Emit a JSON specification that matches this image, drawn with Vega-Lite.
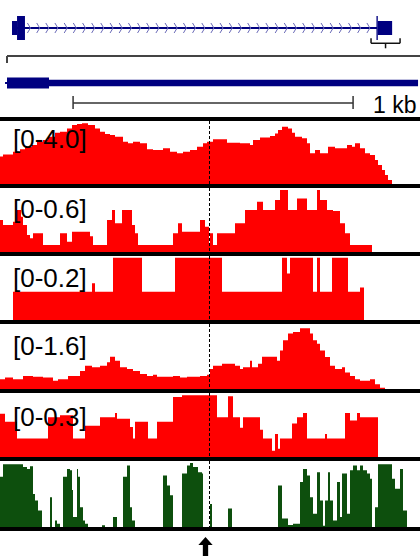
{
  "$schema": "https://vega.github.io/schema/vega-lite/v6.json",
  "background": "black",
  "padding": 0,
  "bounds": "flush",
  "spacing": 4,
  "config": {"view": {"stroke": null, "fill": "white"}},
  "resolve": {"scale": {"x": "independent", "y": "independent", "strokeWidth": "independent"}},
  "vconcat": [
    {
      "width": 420,
      "height": 117,
      "resolve": {"scale": {"x": "independent", "y": "independent", "strokeWidth": "independent"}},
      "layer": [
        {
          "layer": [
            {
              "data": {"values": [{"start": 0.62, "end": 19.48}]},
              "mark": {"type": "rule", "stroke": "#000080", "strokeWidth": 2},
              "encoding": {
                "x": {"field": "start", "type": "quantitative", "scale": {"domain": [0, 21.7], "nice": false, "zero": false}, "axis": null},
                "x2": {"field": "end"},
                "y": {"datum": 0, "type": "quantitative", "scale": {"domain": [-3.18, 1], "nice": false, "zero": false}, "axis": null}
              }
            },
            {
              "data": {"values": [{"kb": 1.52}, {"kb": 2.0}, {"kb": 2.47}, {"kb": 2.94}, {"kb": 3.42}, {"kb": 3.89}, {"kb": 4.37}, {"kb": 4.84}, {"kb": 5.31}, {"kb": 5.79}, {"kb": 6.26}, {"kb": 6.74}, {"kb": 7.21}, {"kb": 7.68}, {"kb": 8.16}, {"kb": 8.63}, {"kb": 9.1}, {"kb": 9.58}, {"kb": 10.05}, {"kb": 10.53}, {"kb": 11.0}, {"kb": 11.47}, {"kb": 11.95}, {"kb": 12.42}, {"kb": 12.9}, {"kb": 13.37}, {"kb": 13.84}, {"kb": 14.32}, {"kb": 14.79}, {"kb": 15.26}, {"kb": 15.74}, {"kb": 16.21}, {"kb": 16.69}, {"kb": 17.16}, {"kb": 17.63}, {"kb": 18.11}, {"kb": 18.58}, {"kb": 19.06}]},
              "mark": {"type": "point", "shape": "M-0.4,-1L0.2,0L-0.4,1", "size": 100, "filled": false, "stroke": "#6a6ab8", "strokeWidth": 1, "opacity": 1},
              "encoding": {
                "x": {"field": "kb", "type": "quantitative"},
                "y": {"datum": 0, "type": "quantitative"}
              }
            },
            {
              "data": {"values": [
                {"start": 0.62, "end": 0.88, "type": "UTR"},
                {"start": 0.88, "end": 1.29, "type": "CDS"},
                {"start": 19.45, "end": 19.52, "type": "CDS"},
                {"start": 19.52, "end": 20.26, "type": "UTR"}
              ]},
              "mark": {"type": "rule", "stroke": "#000080", "strokeCap": "butt"},
              "encoding": {
                "x": {"field": "start", "type": "quantitative"},
                "x2": {"field": "end"},
                "y": {"datum": 0, "type": "quantitative"},
                "strokeWidth": {"field": "type", "type": "ordinal", "scale": {"domain": ["UTR", "CDS"], "range": [14, 24]}, "legend": null}
              }
            },
            {
              "data": {"values": [{"start": 19.17, "end": 20.67, "mid": 19.92}]},
              "layer": [
                {
                  "mark": {"type": "rule", "stroke": "#111111", "strokeWidth": 1.5},
                  "encoding": {"x": {"field": "start", "type": "quantitative"}, "x2": {"field": "end"}, "y": {"datum": -0.546, "type": "quantitative"}}
                },
                {
                  "mark": {"type": "rule", "stroke": "#111111", "strokeWidth": 1.5},
                  "encoding": {"x": {"field": "start", "type": "quantitative"}, "y": {"datum": -0.368, "type": "quantitative"}, "y2": {"datum": -0.546}}
                },
                {
                  "mark": {"type": "rule", "stroke": "#111111", "strokeWidth": 1.5},
                  "encoding": {"x": {"field": "end", "type": "quantitative"}, "y": {"datum": -0.368, "type": "quantitative"}, "y2": {"datum": -0.546}}
                },
                {
                  "mark": {"type": "rule", "stroke": "#111111", "strokeWidth": 1.5},
                  "encoding": {"x": {"field": "mid", "type": "quantitative"}, "y": {"datum": -0.546, "type": "quantitative"}, "y2": {"datum": -0.725}}
                }
              ]
            }
          ]
        },
        {
          "layer": [
            {
              "data": {"values": [{"start": 0.025, "end": 1.5}]},
              "mark": {"type": "rule", "stroke": "#444444", "strokeWidth": 2},
              "encoding": {
                "x": {"field": "start", "type": "quantitative", "scale": {"domain": [0, 1.5], "nice": false, "zero": false}, "axis": null},
                "x2": {"field": "end"},
                "y": {"datum": 1, "type": "quantitative", "scale": {"domain": [-1.26, 3.074], "nice": false, "zero": false}, "axis": null}
              }
            },
            {
              "data": {"values": [{"start": 0.025, "end": 1.5}]},
              "mark": {"type": "rule", "stroke": "#444444", "strokeWidth": 2},
              "encoding": {
                "x": {"field": "start", "type": "quantitative"},
                "y": {"datum": 1, "type": "quantitative"},
                "y2": {"datum": 0.74}
              }
            },
            {
              "data": {"values": [
                {"start": 0.018, "end": 0.025, "type": "intron"},
                {"start": 0.025, "end": 0.175, "type": "CDS"},
                {"start": 0.175, "end": 1.493, "type": "UTR"}
              ]},
              "mark": {"type": "rule", "stroke": "#000080", "strokeCap": "butt"},
              "encoding": {
                "x": {"field": "start", "type": "quantitative"},
                "x2": {"field": "end"},
                "y": {"datum": 0, "type": "quantitative"},
                "strokeWidth": {"field": "type", "type": "ordinal", "scale": {"domain": ["intron", "UTR", "CDS"], "range": [2, 11, 20]}, "legend": null}
              }
            },
            {
              "data": {"values": [{"start": 0.261, "end": 1.261, "lx": 1.332, "label": "1 kb"}]},
              "layer": [
                {
                  "mark": {"type": "rule", "stroke": "#333333", "strokeWidth": 1.5},
                  "encoding": {"x": {"field": "start", "type": "quantitative"}, "x2": {"field": "end"}, "y": {"datum": -0.741, "type": "quantitative"}}
                },
                {
                  "mark": {"type": "rule", "stroke": "#333333", "strokeWidth": 1.5},
                  "encoding": {"x": {"field": "start", "type": "quantitative"}, "y": {"datum": -0.481, "type": "quantitative"}, "y2": {"datum": -0.963}}
                },
                {
                  "mark": {"type": "rule", "stroke": "#333333", "strokeWidth": 1.5},
                  "encoding": {"x": {"field": "end", "type": "quantitative"}, "y": {"datum": -0.481, "type": "quantitative"}, "y2": {"datum": -0.963}}
                },
                {
                  "mark": {"type": "text", "align": "left", "baseline": "alphabetic", "font": "Liberation Sans", "fontSize": 23, "color": "black"},
                  "encoding": {"x": {"field": "lx", "type": "quantitative"}, "y": {"datum": -1.111, "type": "quantitative"}, "text": {"field": "label"}}
                }
              ]
            }
          ]
        }
      ]
    },
    {
      "width": 420,
      "height": 63,
      "layer": [
        {
          "data": {"values": [
            {"bin": 0, "v": 1.74}, {"bin": 3, "v": 1.88}, {"bin": 13, "v": 2.05}, {"bin": 20, "v": 2.2}, {"bin": 25, "v": 2.37}, {"bin": 32, "v": 2.48}, {"bin": 37, "v": 2.69}, {"bin": 43, "v": 2.79}, {"bin": 48, "v": 3.0}, {"bin": 55, "v": 3.26}, {"bin": 60, "v": 3.32}, {"bin": 67, "v": 3.53}, {"bin": 72, "v": 3.75}, {"bin": 77, "v": 3.81}, {"bin": 82, "v": 3.85}, {"bin": 88, "v": 3.75}, {"bin": 95, "v": 3.53}, {"bin": 100, "v": 3.32}, {"bin": 105, "v": 3.17}, {"bin": 110, "v": 3.11}, {"bin": 115, "v": 3.0}, {"bin": 123, "v": 2.69}, {"bin": 128, "v": 2.58}, {"bin": 133, "v": 2.69}, {"bin": 140, "v": 2.58}, {"bin": 147, "v": 2.2}, {"bin": 153, "v": 2.16}, {"bin": 163, "v": 2.27}, {"bin": 170, "v": 2.05}, {"bin": 177, "v": 1.95}, {"bin": 183, "v": 2.05}, {"bin": 190, "v": 2.16}, {"bin": 197, "v": 2.37}, {"bin": 203, "v": 2.58}, {"bin": 207, "v": 2.69},
            {"bin": 210, "v": 2.69}, {"bin": 213, "v": 2.84}, {"bin": 227, "v": 2.62}, {"bin": 240, "v": 2.58}, {"bin": 250, "v": 2.48}, {"bin": 253, "v": 2.79}, {"bin": 260, "v": 2.96}, {"bin": 270, "v": 3.05}, {"bin": 275, "v": 3.2}, {"bin": 278, "v": 3.43}, {"bin": 282, "v": 3.64}, {"bin": 288, "v": 3.53}, {"bin": 292, "v": 3.26}, {"bin": 295, "v": 3.0}, {"bin": 302, "v": 2.9}, {"bin": 307, "v": 2.58}, {"bin": 310, "v": 1.95}, {"bin": 315, "v": 2.16}, {"bin": 320, "v": 1.95}, {"bin": 328, "v": 2.37}, {"bin": 335, "v": 2.27}, {"bin": 347, "v": 2.48}, {"bin": 352, "v": 2.37}, {"bin": 355, "v": 2.58}, {"bin": 360, "v": 2.27}, {"bin": 365, "v": 1.95}, {"bin": 370, "v": 1.84}, {"bin": 375, "v": 1.52}, {"bin": 378, "v": 1.21}, {"bin": 382, "v": 0.89}, {"bin": 385, "v": 0.57}, {"bin": 388, "v": 0.25}, {"bin": 392, "v": 0}, {"bin": 420, "v": 0}
          ]},
          "mark": {"type": "area", "interpolate": "step-after", "color": "#ff0000", "clip": true},
          "encoding": {
            "x": {"field": "bin", "type": "quantitative", "scale": {"domain": [0, 420], "nice": false, "zero": false}, "axis": null},
            "y": {"field": "v", "type": "quantitative", "scale": {"domain": [0, 4.0], "nice": false}, "axis": null}
          }
        },
        {
          "data": {"values": [{"bin": 209.5}]},
          "mark": {"type": "rule", "strokeDash": [3, 2], "color": "black", "strokeWidth": 1},
          "encoding": {"x": {"field": "bin", "type": "quantitative"}}
        },
        {
          "data": {"values": [{"bin": 13, "label": "[0-4.0]"}]},
          "mark": {"type": "text", "align": "left", "baseline": "alphabetic", "font": "Liberation Sans", "fontSize": 26, "color": "black"},
          "encoding": {"x": {"field": "bin", "type": "quantitative"}, "y": {"datum": 2.286, "type": "quantitative"}, "text": {"field": "label"}}
        }
      ]
    },
    {
      "width": 420,
      "height": 64,
      "layer": [
        {
          "data": {"values": [
            {"bin": 0, "v": 0.305}, {"bin": 3, "v": 0.257}, {"bin": 13, "v": 0.289}, {"bin": 17, "v": 0.4}, {"bin": 21, "v": 0.336}, {"bin": 23, "v": 0.257}, {"bin": 27, "v": 0.162}, {"bin": 30, "v": 0.13}, {"bin": 33, "v": 0.178}, {"bin": 43, "v": 0.067}, {"bin": 60, "v": 0.178}, {"bin": 67, "v": 0.098}, {"bin": 72, "v": 0.193}, {"bin": 90, "v": 0.15}, {"bin": 93, "v": 0.067}, {"bin": 107, "v": 0.305}, {"bin": 112, "v": 0.4}, {"bin": 115, "v": 0.273}, {"bin": 122, "v": 0.4}, {"bin": 132, "v": 0.257}, {"bin": 135, "v": 0.178}, {"bin": 138, "v": 0.067}, {"bin": 173, "v": 0.178}, {"bin": 178, "v": 0.273}, {"bin": 182, "v": 0.193}, {"bin": 200, "v": 0.305}, {"bin": 205, "v": 0.24}, {"bin": 209, "v": 0.067},
            {"bin": 210, "v": 0.178}, {"bin": 213, "v": 0.067}, {"bin": 217, "v": 0.178}, {"bin": 235, "v": 0.273}, {"bin": 245, "v": 0.4}, {"bin": 257, "v": 0.48}, {"bin": 263, "v": 0.4}, {"bin": 275, "v": 0.496}, {"bin": 280, "v": 0.59}, {"bin": 288, "v": 0.4}, {"bin": 297, "v": 0.51}, {"bin": 307, "v": 0.4}, {"bin": 317, "v": 0.59}, {"bin": 320, "v": 0.496}, {"bin": 327, "v": 0.4}, {"bin": 333, "v": 0.39}, {"bin": 340, "v": 0.273}, {"bin": 345, "v": 0.178}, {"bin": 350, "v": 0.067}, {"bin": 372, "v": 0}, {"bin": 420, "v": 0}
          ]},
          "mark": {"type": "area", "interpolate": "step-after", "color": "#ff0000", "clip": true},
          "encoding": {
            "x": {"field": "bin", "type": "quantitative", "scale": {"domain": [0, 420], "nice": false, "zero": false}, "axis": null},
            "y": {"field": "v", "type": "quantitative", "scale": {"domain": [0, 0.61], "nice": false}, "axis": null}
          }
        },
        {
          "data": {"values": [{"bin": 209.5}]},
          "mark": {"type": "rule", "strokeDash": [3, 2], "color": "black", "strokeWidth": 1},
          "encoding": {"x": {"field": "bin", "type": "quantitative"}}
        },
        {
          "data": {"values": [{"bin": 13, "label": "[0-0.6]"}]},
          "mark": {"type": "text", "align": "left", "baseline": "alphabetic", "font": "Liberation Sans", "fontSize": 26, "color": "black"},
          "encoding": {"x": {"field": "bin", "type": "quantitative"}, "y": {"datum": 0.327, "type": "quantitative"}, "text": {"field": "label"}}
        }
      ]
    },
    {
      "width": 420,
      "height": 64,
      "layer": [
        {
          "data": {"values": [
            {"bin": 0, "v": 0}, {"bin": 13, "v": 0.091}, {"bin": 92, "v": 0.118}, {"bin": 95, "v": 0.091}, {"bin": 113, "v": 0.2}, {"bin": 142, "v": 0.091}, {"bin": 175, "v": 0.2}, {"bin": 222, "v": 0.091}, {"bin": 282, "v": 0.2}, {"bin": 287, "v": 0.15}, {"bin": 290, "v": 0.2}, {"bin": 313, "v": 0.091}, {"bin": 317, "v": 0.2}, {"bin": 320, "v": 0.091}, {"bin": 332, "v": 0.2}, {"bin": 348, "v": 0.091}, {"bin": 360, "v": 0.105}, {"bin": 364, "v": 0}, {"bin": 420, "v": 0}
          ]},
          "mark": {"type": "area", "interpolate": "step-after", "color": "#ff0000", "clip": true},
          "encoding": {
            "x": {"field": "bin", "type": "quantitative", "scale": {"domain": [0, 420], "nice": false, "zero": false}, "axis": null},
            "y": {"field": "v", "type": "quantitative", "scale": {"domain": [0, 0.206], "nice": false}, "axis": null}
          }
        },
        {
          "data": {"values": [{"bin": 209.5}]},
          "mark": {"type": "rule", "strokeDash": [3, 2], "color": "black", "strokeWidth": 1},
          "encoding": {"x": {"field": "bin", "type": "quantitative"}}
        },
        {
          "data": {"values": [{"bin": 13, "label": "[0-0.2]"}]},
          "mark": {"type": "text", "align": "left", "baseline": "alphabetic", "font": "Liberation Sans", "fontSize": 26, "color": "black"},
          "encoding": {"x": {"field": "bin", "type": "quantitative"}, "y": {"datum": 0.106, "type": "quantitative"}, "text": {"field": "label"}}
        }
      ]
    },
    {
      "width": 420,
      "height": 65,
      "layer": [
        {
          "data": {"values": [
            {"bin": 0, "v": 0.25}, {"bin": 5, "v": 0.29}, {"bin": 13, "v": 0.25}, {"bin": 23, "v": 0.33}, {"bin": 33, "v": 0.31}, {"bin": 43, "v": 0.29}, {"bin": 53, "v": 0.21}, {"bin": 58, "v": 0.25}, {"bin": 68, "v": 0.33}, {"bin": 80, "v": 0.46}, {"bin": 85, "v": 0.59}, {"bin": 92, "v": 0.55}, {"bin": 100, "v": 0.59}, {"bin": 107, "v": 0.68}, {"bin": 110, "v": 0.82}, {"bin": 115, "v": 0.72}, {"bin": 120, "v": 0.55}, {"bin": 127, "v": 0.51}, {"bin": 133, "v": 0.46}, {"bin": 140, "v": 0.38}, {"bin": 147, "v": 0.33}, {"bin": 153, "v": 0.36}, {"bin": 157, "v": 0.31}, {"bin": 173, "v": 0.33}, {"bin": 180, "v": 0.29}, {"bin": 187, "v": 0.31}, {"bin": 200, "v": 0.33}, {"bin": 207, "v": 0.36},
            {"bin": 210, "v": 0.51}, {"bin": 213, "v": 0.59}, {"bin": 222, "v": 0.64}, {"bin": 235, "v": 0.59}, {"bin": 240, "v": 0.51}, {"bin": 243, "v": 0.55}, {"bin": 250, "v": 0.72}, {"bin": 252, "v": 0.55}, {"bin": 258, "v": 0.64}, {"bin": 262, "v": 0.82}, {"bin": 277, "v": 0.72}, {"bin": 280, "v": 0.98}, {"bin": 283, "v": 1.24}, {"bin": 288, "v": 1.41}, {"bin": 293, "v": 1.45}, {"bin": 300, "v": 1.54}, {"bin": 310, "v": 1.41}, {"bin": 313, "v": 1.24}, {"bin": 317, "v": 1.15}, {"bin": 320, "v": 0.98}, {"bin": 325, "v": 0.81}, {"bin": 330, "v": 0.59}, {"bin": 335, "v": 0.51}, {"bin": 342, "v": 0.55}, {"bin": 345, "v": 0.42}, {"bin": 350, "v": 0.33}, {"bin": 355, "v": 0.25}, {"bin": 360, "v": 0.21}, {"bin": 370, "v": 0.25}, {"bin": 375, "v": 0.12}, {"bin": 380, "v": 0.03}, {"bin": 385, "v": 0}, {"bin": 420, "v": 0}
          ]},
          "mark": {"type": "area", "interpolate": "step-after", "color": "#ff0000", "clip": true},
          "encoding": {
            "x": {"field": "bin", "type": "quantitative", "scale": {"domain": [0, 420], "nice": false, "zero": false}, "axis": null},
            "y": {"field": "v", "type": "quantitative", "scale": {"domain": [0, 1.65], "nice": false}, "axis": null}
          }
        },
        {
          "data": {"values": [{"bin": 209.5}]},
          "mark": {"type": "rule", "strokeDash": [3, 2], "color": "black", "strokeWidth": 1},
          "encoding": {"x": {"field": "bin", "type": "quantitative"}}
        },
        {
          "data": {"values": [{"bin": 13, "label": "[0-1.6]"}]},
          "mark": {"type": "text", "align": "left", "baseline": "alphabetic", "font": "Liberation Sans", "fontSize": 26, "color": "black"},
          "encoding": {"x": {"field": "bin", "type": "quantitative"}, "y": {"datum": 0.863, "type": "quantitative"}, "text": {"field": "label"}}
        }
      ]
    },
    {
      "width": 420,
      "height": 64,
      "layer": [
        {
          "data": {"values": [
            {"bin": 0, "v": 0.207}, {"bin": 5, "v": 0.168}, {"bin": 17, "v": 0.088}, {"bin": 48, "v": 0.19}, {"bin": 60, "v": 0.2}, {"bin": 73, "v": 0.088}, {"bin": 85, "v": 0.15}, {"bin": 100, "v": 0.19}, {"bin": 115, "v": 0.21}, {"bin": 117, "v": 0.183}, {"bin": 130, "v": 0.144}, {"bin": 133, "v": 0.088}, {"bin": 135, "v": 0.168}, {"bin": 148, "v": 0.088}, {"bin": 157, "v": 0.168}, {"bin": 173, "v": 0.287}, {"bin": 182, "v": 0.295},
            {"bin": 210, "v": 0.295}, {"bin": 217, "v": 0.19}, {"bin": 228, "v": 0.29}, {"bin": 233, "v": 0.19}, {"bin": 240, "v": 0.14}, {"bin": 243, "v": 0.19}, {"bin": 260, "v": 0.13}, {"bin": 263, "v": 0.088}, {"bin": 272, "v": 0.03}, {"bin": 275, "v": 0.11}, {"bin": 278, "v": 0.04}, {"bin": 280, "v": 0.088}, {"bin": 292, "v": 0.16}, {"bin": 297, "v": 0.19}, {"bin": 303, "v": 0.21}, {"bin": 307, "v": 0.088}, {"bin": 325, "v": 0.11}, {"bin": 327, "v": 0.088}, {"bin": 345, "v": 0.21}, {"bin": 350, "v": 0.175}, {"bin": 357, "v": 0.21}, {"bin": 360, "v": 0.19}, {"bin": 378, "v": 0}, {"bin": 420, "v": 0}
          ]},
          "mark": {"type": "area", "interpolate": "step-after", "color": "#ff0000", "clip": true},
          "encoding": {
            "x": {"field": "bin", "type": "quantitative", "scale": {"domain": [0, 420], "nice": false, "zero": false}, "axis": null},
            "y": {"field": "v", "type": "quantitative", "scale": {"domain": [0, 0.306], "nice": false}, "axis": null}
          }
        },
        {
          "data": {"values": [{"bin": 209.5}]},
          "mark": {"type": "rule", "strokeDash": [3, 2], "color": "black", "strokeWidth": 1},
          "encoding": {"x": {"field": "bin", "type": "quantitative"}}
        },
        {
          "data": {"values": [{"bin": 13, "label": "[0-0.3]"}]},
          "mark": {"type": "text", "align": "left", "baseline": "alphabetic", "font": "Liberation Sans", "fontSize": 26, "color": "black"},
          "encoding": {"x": {"field": "bin", "type": "quantitative"}, "y": {"datum": 0.148, "type": "quantitative"}, "text": {"field": "label"}}
        }
      ]
    },
    {
      "width": 420,
      "height": 66,
      "layer": [
        {
          "data": {"values": [
            {"bin": 0, "v": 0.76}, {"bin": 3, "v": 0.95}, {"bin": 23, "v": 0.91}, {"bin": 27, "v": 0.88}, {"bin": 30, "v": 0.92}, {"bin": 33, "v": 0.5}, {"bin": 35, "v": 0.4}, {"bin": 38, "v": 0.25}, {"bin": 42, "v": 0}, {"bin": 50, "v": 0.45}, {"bin": 52, "v": 0}, {"bin": 55, "v": 0.1}, {"bin": 57, "v": 0.05}, {"bin": 60, "v": 0}, {"bin": 63, "v": 0.76}, {"bin": 67, "v": 0.88}, {"bin": 70, "v": 0.86}, {"bin": 72, "v": 0.56}, {"bin": 73, "v": 0.15}, {"bin": 77, "v": 0.88}, {"bin": 78, "v": 0.76}, {"bin": 80, "v": 0.3}, {"bin": 83, "v": 0.1}, {"bin": 85, "v": 0.05}, {"bin": 88, "v": 0}, {"bin": 102, "v": 0.025}, {"bin": 105, "v": 0}, {"bin": 113, "v": 0.15}, {"bin": 117, "v": 0}, {"bin": 123, "v": 0.76}, {"bin": 127, "v": 0.93}, {"bin": 130, "v": 0.3}, {"bin": 132, "v": 0.1}, {"bin": 135, "v": 0}, {"bin": 163, "v": 0.78}, {"bin": 167, "v": 0.63}, {"bin": 170, "v": 0.48}, {"bin": 173, "v": 0}, {"bin": 182, "v": 0.81}, {"bin": 187, "v": 0.93}, {"bin": 190, "v": 0.97}, {"bin": 193, "v": 0.91}, {"bin": 198, "v": 0.83}, {"bin": 202, "v": 0.81}, {"bin": 203, "v": 0},
            {"bin": 210, "v": 0.35}, {"bin": 212, "v": 0}, {"bin": 228, "v": 0.28}, {"bin": 232, "v": 0}, {"bin": 278, "v": 0.63}, {"bin": 282, "v": 0.13}, {"bin": 288, "v": 0.03}, {"bin": 293, "v": 0.05}, {"bin": 300, "v": 0.68}, {"bin": 303, "v": 0.88}, {"bin": 307, "v": 0.78}, {"bin": 310, "v": 0.45}, {"bin": 313, "v": 0.2}, {"bin": 317, "v": 0.83}, {"bin": 320, "v": 0.4}, {"bin": 323, "v": 0.02}, {"bin": 325, "v": 0.4}, {"bin": 328, "v": 0.83}, {"bin": 330, "v": 0.4}, {"bin": 333, "v": 0.1}, {"bin": 337, "v": 0.68}, {"bin": 340, "v": 0.15}, {"bin": 342, "v": 0.81}, {"bin": 347, "v": 0.2}, {"bin": 350, "v": 0.86}, {"bin": 353, "v": 0.93}, {"bin": 357, "v": 0.86}, {"bin": 360, "v": 0.93}, {"bin": 363, "v": 0.86}, {"bin": 367, "v": 0.81}, {"bin": 370, "v": 0.73}, {"bin": 372, "v": 0}, {"bin": 375, "v": 0.3}, {"bin": 378, "v": 0.95}, {"bin": 392, "v": 0.73}, {"bin": 395, "v": 0.58}, {"bin": 400, "v": 0.88}, {"bin": 403, "v": 0.25}, {"bin": 407, "v": 0}, {"bin": 420, "v": 0}
          ]},
          "mark": {"type": "area", "interpolate": "step-after", "color": "#0d4f0d", "clip": true},
          "encoding": {
            "x": {"field": "bin", "type": "quantitative", "scale": {"domain": [0, 420], "nice": false, "zero": false}, "axis": null},
            "y": {"field": "v", "type": "quantitative", "scale": {"domain": [0, 1], "nice": false}, "axis": null}
          }
        },
        {
          "data": {"values": [{"bin": 209.5}]},
          "mark": {"type": "rule", "strokeDash": [3, 2], "color": "black", "strokeWidth": 1},
          "encoding": {"x": {"field": "bin", "type": "quantitative"}}
        }
      ]
    },
    {
      "width": 420,
      "height": 26,
      "data": {"values": [{"bin": 205.5}]},
      "mark": {"type": "point", "shape": "M0,-1L0.75,-0.15L0.28,-0.15L0.28,1L-0.28,1L-0.28,-0.15L-0.75,-0.15Z", "size": 361, "filled": true, "fill": "black", "stroke": null, "opacity": 1},
      "encoding": {
        "x": {"field": "bin", "type": "quantitative", "scale": {"domain": [0, 420], "nice": false, "zero": false}, "axis": null},
        "y": {"datum": -0.19, "type": "quantitative", "scale": {"domain": [-1, 1], "nice": false, "zero": false}, "axis": null}
      }
    }
  ]
}
